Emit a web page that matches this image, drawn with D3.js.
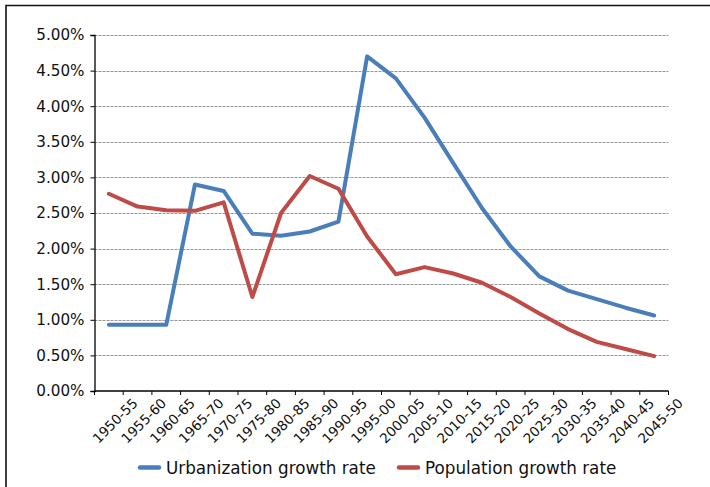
<!DOCTYPE html>
<html>
<head>
<meta charset="utf-8">
<script src="https://cdn.jsdelivr.net/npm/d3@7"></script>
<style>
  body { margin: 0; background: #fff; }
  svg { display: block; font-family: "DejaVu Sans", sans-serif; }
</style>
</head>
<body>
<svg id="chart" width="710" height="487"></svg>
<script>

  const periods = ["1950-55", "1955-60", "1960-65", "1965-70", "1970-75", "1975-80", "1980-85",
    "1985-90", "1990-95", "1995-00", "2000-05", "2005-10", "2010-15", "2015-20", "2020-25",
    "2025-30", "2030-35", "2035-40", "2040-45", "2045-50"];

  // growth rates in percent
  const urbanization = [0.93, 0.93, 0.93, 2.90, 2.81, 2.21, 2.18, 2.24, 2.38, 4.70,
    4.39, 3.84, 3.20, 2.57, 2.03, 1.61, 1.41, 1.29, 1.17, 1.06];
  const population = [2.77, 2.59, 2.54, 2.53, 2.65, 1.32, 2.50, 3.02, 2.84, 2.17,
    1.64, 1.74, 1.65, 1.52, 1.32, 1.09, 0.87, 0.69, 0.59, 0.49];

  const y_ticks = [0, 0.5, 1, 1.5, 2, 2.5, 3, 3.5, 4, 4.5, 5];

  const series = [
    { name: "Urbanization growth rate", values: urbanization, color: "#4A7EBB" },
    { name: "Population growth rate",   values: population,   color: "#BE4B48" }
  ];

  const svg = d3.select('#chart');
  const plot_left = 94.5, plot_right = 668.5, plot_top = 35, plot_bottom = 391;

  // outer frame (runs off the right and bottom edge)
  svg.append('path')
    .attr('d', "M6,490 L6,5.5 L712,5.5")
    .attr('fill', 'none')
    .attr('stroke', '#111')
    .attr('stroke-width', 1.6);

  const x = d3.scaleBand().domain(periods).range([plot_left, plot_right]).padding(0);
  const y = d3.scaleLinear().domain([0, 5]).range([plot_bottom, plot_top]);

  // gridlines
  svg.append('g')
    .selectAll('line')
    .data(y_ticks.filter(d => d > 0))
    .join('line')
    .attr('x1', plot_left).attr('x2', plot_right)
    .attr('y1', d => Math.round(y(d)) + 0.5).attr('y2', d => Math.round(y(d)) + 0.5)
    .attr('stroke', '#999')
    .attr('stroke-width', 1)
    .attr('stroke-dasharray', '3,1');

  // y axis
  const y_axis = svg.append('g')
    .attr('transform', "translate(" + plot_left + ",0)")
    .call(d3.axisLeft(y).tickValues(y_ticks).tickSize(4).tickPadding(6)
      .tickFormat(d => d.toFixed(2) + "%"));
  y_axis.select('.domain').attr('stroke', '#000').attr('stroke-width', 1.3);
  y_axis.selectAll('.tick line').attr('stroke', '#000');
  y_axis.selectAll('text').attr('font-size', 15.2).attr('fill', '#111')
    .attr('font-family', '"DejaVu Sans", sans-serif');

  // x axis: ticks on band edges
  const x_axis = svg.append('g').attr('transform', "translate(0," + plot_bottom + ")");
  x_axis.append('line')
    .attr('x1', plot_left).attr('x2', plot_right)
    .attr('stroke', '#000').attr('stroke-width', 1.3);
  x_axis.selectAll('line.tick')
    .data(periods.concat(["end"]))
    .join('line')
    .attr('class', 'tick')
    .attr('x1', (d, i) => plot_left + i * x.step()).attr('x2', (d, i) => plot_left + i * x.step())
    .attr('y1', 0).attr('y2', 4)
    .attr('stroke', '#000');
  x_axis.selectAll('text')
    .data(periods)
    .join('text')
    .attr('transform', d => "translate(" + (x(d) + x.bandwidth() * 1.5 + 1) + ",13) rotate(-45)")
    .attr('text-anchor', 'end')
    .attr('font-size', 13.6)
    .attr('fill', '#111')
    .text(d => d);

  // lines
  const line = d3.line()
    .x((d, i) => x(periods[i]) + x.bandwidth() / 2)
    .y(d => y(d));

  svg.append('g')
    .selectAll('path')
    .data(series)
    .join('path')
    .attr('d', d => line(d.values))
    .attr('fill', 'none')
    .attr('stroke', d => d.color)
    .attr('stroke-width', 4)
    .attr('stroke-linejoin', 'round')
    .attr('stroke-linecap', 'round');

  // legend
  const legend_x = [140, 399];
  const legend = svg.append('g')
    .selectAll('g')
    .data(series)
    .join('g')
    .attr('transform', (d, i) => "translate(" + legend_x[i] + ",467.5)");
  legend.append('line')
    .attr('x1', 0).attr('x2', 19)
    .attr('stroke', d => d.color)
    .attr('stroke-width', 4.5)
    .attr('stroke-linecap', 'round');
  legend.append('text')
    .attr('x', 26).attr('y', 6)
    .attr('font-size', 16.8)
    .attr('fill', '#111')
    .text(d => d.name);

</script>
</body>
</html>
